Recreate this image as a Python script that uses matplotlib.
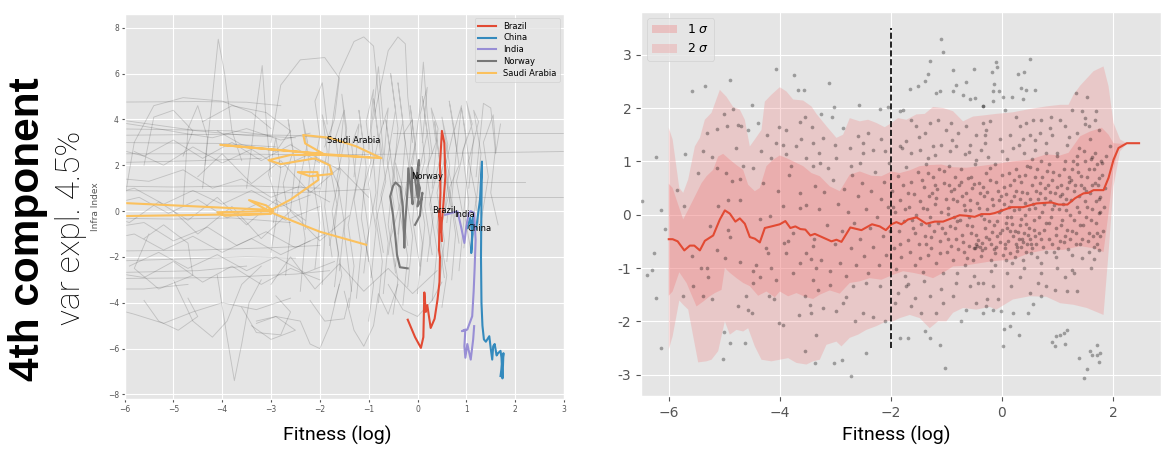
import numpy as np
import matplotlib
matplotlib.use('Agg')
import matplotlib.pyplot as plt

plt.style.use('ggplot')

# ---------------- left panel: trajectories ----------------
brazil_x = [-0.20, -0.05, 0.07, 0.12, 0.14, 0.17, 0.20, 0.27, 0.35, 0.41, 0.45, 0.46, 0.44, 0.45,
            0.47, 0.46, 0.50, 0.55, 0.57, 0.53, 0.48, 0.44, 0.48, 0.50]
brazil_y = [-4.74, -5.5, -5.97, -5.5, -3.55, -4.4, -4.1, -5.1, -4.7, -3.86, -3.1, -2.0, -1.7, -0.5,
            0.8, 2.0, 3.5, 2.97, 1.5, 0.3, -0.9, 0.0, -0.5, -1.3]

china_x = [1.02, 1.08, 1.12, 1.10, 1.15, 1.12, 1.20, 1.28, 1.32, 1.31, 1.30, 1.31, 1.33, 1.36, 1.40,
           1.47, 1.50, 1.53, 1.55, 1.58, 1.62, 1.65, 1.70, 1.72, 1.74, 1.76, 1.70]
china_y = [-0.74, -0.3, -1.0, -1.83, -0.2, -0.5, -0.8, 0.5, 2.16, 0.5, -2.0, -4.0, -5.0, -5.6, -5.7,
           -5.46, -6.0, -6.48, -5.9, -5.8, -6.3, -6.2, -6.1, -6.4, -7.3, -6.2, -7.2]

india_x = [0.57, 0.75, 0.82, 0.89, 0.96, 1.0, 1.05, 1.09, 1.16, 1.19, 1.17, 1.15, 1.12, 1.02, 0.91,
           0.98, 0.96, 0.98, 1.02, 1.09, 1.14, 1.16]
india_y = [-0.16, -0.05, -0.02, -0.66, -1.39, -0.66, -0.1, 0.0, -0.08, -1.25, -2.5, -3.5, -4.59,
           -5.17, -5.24, -5.17, -5.9, -6.4, -5.8, -6.48, -5.6, -5.02]

norway_x = [-0.20, -0.36, -0.42, -0.45, -0.50, -0.56, -0.50, -0.45, -0.35, -0.30, -0.28, -0.27, -0.25,
            -0.20, -0.19, -0.15, -0.10, -0.12, -0.05, 0.0, 0.03, -0.02, 0.05, 0.0, 0.08, 0.10, 0.05, -0.05]
norway_y = [-2.5, -2.45, -1.9, -1.2, -0.2, 0.64, 1.1, 1.25, 1.05, 0.2, -0.9, -1.6, -0.5, 1.0, 1.87,
            1.2, 0.3, 1.9, 1.4, 0.6, 2.23, 1.5, 1.0, 0.2, 0.5, 0.8, -0.2, -0.6]

saudi_x = [-1.05, -2.0, -2.95, -3.45, -3.1, -2.95, -4.1, -3.95, -3.0, -7.0, -7.0, -3.0, -2.6, -2.03,
           -2.05, -2.45, -2.2, -1.75, -1.8, -2.1, -2.8, -3.05, -2.6, -1.9, -0.74, -1.25, -1.8, -2.34,
           -2.3, -1.93, -4.04, -2.0, -1.0]
saudi_y = [-1.47, -0.9, -0.1, 0.48, 0.25, 0.0, -0.05, -0.2, -0.12, -0.25, 0.45, 0.05, 0.5, 1.36,
           1.7, 1.7, 1.52, 1.62, 2.0, 2.3, 2.05, 2.22, 2.45, 2.45, 2.31, 2.82, 3.2, 3.32, 2.95, 2.5,
           2.89, 2.5, 2.35]

countries = ['Brazil', 'China', 'India', 'Norway', 'Saudi Arabia']
country_colors = ['#E24A33', '#348ABD', '#988ED5', '#777777', '#FBC15E']
label_x = [0.30, 1.02, 0.76, -0.13, -1.86]
label_y = [0.03, -0.74, -0.16, 1.51, 3.06]

# other countries (faint grey background)
others = [
    [(-6.5, 4.75), (-4.5, 4.78), (-3.5, 4.75), (-2.8, 4.6)],
    [(-6.5, 4.1), (-5.5, 3.8), (-4.5, 3.5), (-3.5, 3.3), (-2.5, 3.2)],
    [(-6.5, 3.3), (-4.0, 3.35), (-2.5, 3.3), (-1.5, 3.1)],
    [(-6.5, 2.5), (-4.0, 2.5), (-2.0, 2.45), (0.0, 2.5), (1.5, 2.55), (3.0, 2.6)],
    [(-6.5, 3.0), (-4.0, 2.95), (-2.9, 2.8)],
    [(-6.5, 2.1), (-4.5, 2.2), (-3.2, 2.3)],
    [(-6.5, 0.9), (-4.0, 0.85), (-2.5, 0.8), (-1.0, 0.95)],
    [(-6.5, -1.75), (-4.5, -1.7), (-3.0, -1.6), (-2.0, -1.5)],
    [(-6.5, -2.95), (-4.0, -2.9), (-2.5, -2.75), (-1.8, -2.6)],
    [(-6.5, -2.7), (-4.5, -2.6), (-3.5, -2.4)],
    [(-6.5, -3.4), (-5.6, -3.4), (-4.7, -3.2)],
    [(-0.5, 3.42), (1.2, 3.42), (3.0, 3.42)],
    [(-0.5, 1.25), (1.0, 1.25), (2.2, 1.25)],
    [(-0.2, 0.6), (1.5, 0.6), (3.0, 0.6)],
    [(-1.95, -3.2), (-1.9, -1.0), (-2.0, 0.8), (-1.85, 2.6), (-1.95, 4.2), (-1.8, 3.0), (-1.9, 0.2), (-1.75, -2.0)],
    [(-1.6, -2.6), (-1.5, -0.5), (-1.65, 1.4), (-1.45, 3.6), (-1.55, 5.1), (-1.4, 2.2), (-1.5, -0.9), (-1.35, -3.5)],
    [(-1.25, -3.8), (-1.15, -1.6), (-1.3, 0.5), (-1.1, 2.8), (-1.2, 4.4), (-1.05, 1.9), (-1.15, -0.3), (-1.0, -2.2)],
    [(-0.95, -2.9), (-0.85, -0.8), (-1.0, 1.2), (-0.8, 3.1), (-0.9, 4.9), (-0.75, 2.4), (-0.85, 0.1), (-0.7, -1.8)],
    [(-0.7, -3.6), (-0.6, -1.4), (-0.75, 0.7), (-0.55, 2.5), (-0.65, 4.0), (-0.5, 1.6), (-0.6, -0.6), (-0.45, -2.7)],
    [(-0.45, -2.4), (-0.35, -0.2), (-0.5, 1.9), (-0.3, 3.9), (-0.4, 5.6), (-0.25, 3.0), (-0.35, 0.6), (-0.2, -1.5)],
    [(-0.2, -3.3), (-0.1, -1.1), (-0.25, 0.9), (-0.05, 2.9), (-0.15, 4.6), (0.0, 2.0), (-0.1, -0.4), (0.05, -2.4)],
    [(0.05, -2.8), (0.15, -0.6), (0.0, 1.4), (0.2, 3.4), (0.1, 5.0), (0.25, 2.6), (0.15, 0.2), (0.3, -1.9)],
    [(0.3, -3.9), (0.4, -1.7), (0.25, 0.3), (0.45, 2.2), (0.35, 3.9), (0.5, 1.5), (0.4, -0.7), (0.55, -2.9)],
    [(0.6, -2.2), (0.7, 0.0), (0.55, 1.8), (0.75, 3.6), (0.65, 4.8), (0.8, 2.7), (0.7, 0.5), (0.85, -1.4)],
    [(0.85, -2.6), (0.95, -0.4), (0.8, 1.3), (1.0, 3.2), (0.9, 4.5), (1.05, 2.3), (0.95, 0.0), (1.1, -1.8)],
    [(1.1, -1.5), (1.2, 0.6), (1.05, 2.2), (1.25, 3.9), (1.15, 4.4), (1.3, 2.5), (1.2, 0.3), (1.3, -1.2)],
    [(-1.8, -1.5), (-1.65, 0.3), (-1.8, 2.0), (-1.6, 1.0), (-1.7, -0.8), (-1.55, -2.8), (-1.7, -4.0)],
    [(-0.5, -4.5), (-0.4, -3.0), (-0.55, -1.2), (-0.35, 0.4), (-0.45, 2.1), (-0.3, 1.0), (-0.4, -1.0)],
    [(0.5, -4.2), (0.6, -2.8), (0.45, -1.0), (0.65, 0.8), (0.55, 2.5), (0.7, 1.2), (0.6, -0.5)],
    [(-2.4, -3.5), (-2.3, -1.2), (-2.45, 0.9), (-2.25, 3.0), (-2.35, 4.0), (-2.2, 1.8), (-2.3, -0.8)],
    [(1.3, -0.5), (1.45, 1.5), (1.35, 3.0), (1.55, 4.2), (1.6, 2.8), (1.5, 0.8), (1.65, -0.6)],
    [(-1.0, -4.8), (-0.9, -3.2), (-1.05, -1.5), (-0.85, 0.8), (-0.95, 3.5), (-0.8, 6.3), (-0.7, 3.8)],
    [(-6.5, 1.5), (-5.5, 1.3), (-4.8, 1.8), (-4.2, 1.0), (-3.6, 1.4), (-3.0, 0.6), (-2.4, 1.1), (-1.8, 0.4)],
    [(-6.5, -0.8), (-5.6, -0.5), (-5.0, -1.3), (-4.3, -0.7), (-3.7, -1.5), (-3.1, -0.9), (-2.5, -1.6), (-1.9, -1.0)],
    [(-6.5, 0.2), (-5.7, 0.6), (-5.1, -0.1), (-4.5, 0.5), (-3.9, -0.3), (-3.3, 0.3), (-2.7, -0.4), (-2.0, 0.2)],
    [(-5.9, -2.4), (-5.3, -1.8), (-4.7, -2.5), (-4.1, -1.9), (-3.5, -2.6), (-2.9, -2.0), (-2.3, -2.7), (-1.7, -2.2)],
    [(-5.8, 2.6), (-5.2, 2.0), (-4.6, 2.8), (-4.0, 2.1), (-3.4, 2.7), (-2.8, 1.9), (-2.2, 2.5), (-1.6, 1.8)],
    [(-5.5, -1.0), (-5.8, -2.5), (-5.3, -3.4), (-4.6, -2.8), (-4.7, -1.4), (-5.2, -0.6), (-5.6, -1.2)],
    [(-4.4, 3.9), (-3.8, 4.6), (-3.1, 4.3), (-2.6, 3.5), (-2.9, 2.6), (-3.6, 2.9), (-4.1, 3.5)],
    [(-6.2, -2.0), (-6.0, 0.5), (-5.8, 3.0), (-5.4, 4.6), (-4.8, 4.95), (-4.0, 4.8), (-3.4, 4.3), (-3.0, 3.6)],
    [(-6.5, -4.1), (-5.8, -4.5), (-5.2, -4.9), (-4.6, -4.4), (-4.0, -4.0), (-3.3, -4.3), (-2.6, -3.8)],
    [(-5.0, -3.0), (-4.6, -4.8), (-4.2, -5.5), (-3.9, -4.8), (-3.6, -3.2), (-3.2, -2.4)],
    [(-4.1, -2.8), (-3.9, -5.5), (-3.75, -7.4), (-3.6, -5.8), (-3.45, -4.0), (-3.2, -3.0)],
    [(-3.3, -4.8), (-2.9, -4.6), (-2.4, -4.8), (-2.2, -5.8), (-2.0, -6.0), (-1.8, -5.0), (-1.6, -3.2)],
    [(-1.5, -3.5), (-1.3, -5.2), (-1.1, -5.9), (-0.9, -5.0), (-0.8, -3.6), (-0.6, -4.5), (-0.4, -3.2)],
    [(-4.35, 2.0), (-4.2, 5.0), (-4.08, 7.5), (-3.95, 6.0), (-3.8, 3.5), (-3.6, 2.2)],
    [(-3.5, 1.0), (-3.3, 4.5), (-3.18, 6.35), (-3.1, 4.0), (-3.0, 1.5)],
    [(-3.0, 3.0), (-2.8, 5.5), (-2.4, 6.6), (-1.9, 6.7), (-1.6, 5.8), (-1.7, 4.0), (-1.9, 2.8)],
    [(-1.8, 3.0), (-1.6, 6.0), (-1.3, 7.4), (-1.1, 7.6), (-0.9, 7.2), (-0.8, 5.0), (-0.7, 2.5)],
    [(-0.9, 4.0), (-0.6, 7.0), (-0.4, 7.6), (-0.25, 7.3), (-0.2, 5.0), (-0.1, 3.0)],
    [(-0.1, 2.0), (0.05, 4.5), (0.12, 6.5), (0.2, 4.2), (0.3, 2.5)],
    [(1.2, 1.5), (1.35, 4.7), (1.5, 4.5), (1.6, 2.5), (1.7, 3.8)],
    [(-5.0, 0.0), (-4.5, -1.0), (-3.8, 0.2), (-3.2, -1.2), (-2.6, 0.0), (-2.0, -1.3), (-1.4, -0.2)],
    [(-4.5, 1.5), (-4.0, 2.5), (-3.4, 1.2), (-2.8, 2.2), (-2.2, 0.8), (-1.6, 1.9), (-1.0, 0.6)],
    [(-3.0, -3.2), (-2.6, -2.0), (-2.1, -3.4), (-1.6, -2.3), (-1.1, -3.5), (-0.6, -2.5), (-0.1, -3.6), (0.4, -2.6)],
    [(-3.4, -5.0), (-3.0, -5.6), (-2.5, -5.2), (-2.9, -4.6), (-3.3, -4.9)],
    [(-6.5, 4.0), (-5.6, 3.7), (-4.8, 3.4), (-4.2, 3.2), (-3.5, 3.6), (-2.8, 3.1), (-2.2, 3.4)],
    [(-6.5, -0.3), (-5.0, -0.35), (-3.8, -0.3), (-2.6, -0.5)],
    [(-6.5, 1.1), (-5.0, 1.05), (-3.5, 1.1), (-2.0, 1.0)],
    [(-6.5, -2.2), (-5.0, -2.1), (-3.5, -2.0), (-2.5, -2.05)],
    [(-6.5, 3.6), (-5.0, 3.55), (-3.8, 3.5), (-3.0, 3.3)],
    [(-2.1, -2.5), (-2.0, -0.5), (-2.15, 1.5), (-2.0, 3.3), (-2.1, 4.8), (-1.95, 5.6), (-1.85, 3.8)],
    [(-1.7, -3.3), (-1.62, -1.8), (-1.75, 0.0), (-1.58, 1.7), (-1.68, 3.2), (-1.5, 4.4), (-1.6, 2.4)],
    [(-1.4, -4.2), (-1.3, -2.4), (-1.42, -0.6), (-1.25, 1.2), (-1.35, 2.9), (-1.2, 3.8), (-1.3, 1.5)],
    [(-1.1, -2.7), (-1.0, -0.9), (-1.12, 0.9), (-0.95, 2.2), (-1.05, 3.9), (-0.9, 5.3), (-1.0, 2.7)],
    [(-0.8, -4.0), (-0.72, -2.2), (-0.85, -0.4), (-0.65, 1.3), (-0.78, 3.3), (-0.6, 4.5), (-0.7, 2.0)],
    [(-0.6, -1.9), (-0.48, 0.2), (-0.62, 2.2), (-0.45, 4.4), (-0.55, 6.0), (-0.4, 3.6), (-0.5, 1.2)],
    [(-0.3, -4.1), (-0.2, -2.0), (-0.35, -0.2), (-0.15, 1.6), (-0.28, 3.4), (-0.1, 4.0), (-0.2, 1.2)],
    [(0.0, -3.6), (0.1, -1.4), (-0.05, 0.6), (0.15, 2.2), (0.05, 4.2), (0.2, 5.4), (0.1, 3.0)],
    [(0.2, -2.2), (0.32, -0.3), (0.18, 1.8), (0.38, 3.0), (0.28, 4.5), (0.42, 3.6), (0.3, 1.0)],
    [(0.45, -3.2), (0.55, -1.3), (0.4, 0.8), (0.62, 2.9), (0.5, 4.1), (0.66, 2.0), (0.55, -0.2)],
    [(0.7, -3.0), (0.78, -1.0), (0.65, 1.0), (0.85, 2.0), (0.75, 3.5), (0.9, 4.6), (0.8, 2.6)],
    [(0.95, -1.6), (1.05, 0.4), (0.92, 2.6), (1.12, 3.8), (1.0, 4.8), (1.15, 3.2), (1.05, 1.0)],
    [(-2.7, -2.8), (-2.6, -0.8), (-2.75, 1.2), (-2.55, 2.6), (-2.65, 4.0), (-2.5, 2.0), (-2.6, 0.0)],
    [(-3.0, -1.8), (-2.85, 0.2), (-3.05, 1.6), (-2.9, 3.2), (-2.8, 1.8), (-2.95, -0.5)],
    [(-6.5, -1.3), (-5.8, -1.0), (-5.2, -1.7), (-4.6, -1.1), (-4.0, -1.8), (-3.4, -1.2), (-2.8, -1.9), (-2.2, -1.3)],
    [(-6.5, 0.6), (-5.8, 1.0), (-5.2, 0.3), (-4.6, 0.9), (-4.0, 0.3), (-3.4, 0.9), (-2.8, 0.2), (-2.2, 0.7)],
    [(-6.5, -0.1), (-5.9, -0.5), (-5.3, 0.4), (-4.7, -0.4), (-4.1, 0.6), (-3.5, -0.6), (-2.9, 0.5), (-2.3, -0.4)],
    [(-6.5, 2.9), (-5.6, 2.4), (-5.0, 3.1), (-4.4, 2.3), (-3.8, 3.0), (-3.2, 2.2), (-2.6, 2.9), (-2.0, 2.1)],
    [(-6.5, -2.6), (-5.6, -2.9), (-5.0, -2.2), (-4.4, -3.1), (-3.8, -2.4), (-3.2, -3.2), (-2.6, -2.5), (-2.0, -3.0)],
    [(-5.6, -3.9), (-5.3, -4.8), (-4.9, -5.2), (-4.5, -4.6), (-4.7, -3.8)],
    [(-3.6, -4.2), (-3.3, -5.3), (-2.8, -5.4), (-2.6, -4.4), (-2.9, -3.7)],
    [(-2.2, -3.9), (-1.9, -4.8), (-1.5, -4.7), (-1.4, -3.8)],
    [(-0.6, -3.2), (-0.3, -4.3), (0.0, -4.6), (0.3, -3.9), (0.5, -3.1)],
    [(-5.6, 2.0), (-5.4, 4.1), (-5.0, 4.4), (-4.6, 3.5), (-4.8, 2.4)],
    [(-4.8, 0.2), (-4.7, 3.6), (-4.5, 4.6), (-4.3, 3.2), (-4.4, 1.0)],
]

# ---------------- right panel: rolling median and bands ----------------
med_x = [-6.0, -5.93, -5.84, -5.72, -5.62, -5.54, -5.44, -5.35, -5.20, -5.08, -4.99, -4.90, -4.80,
         -4.72, -4.63, -4.54, -4.45, -4.36, -4.27, -4.15, -4.0, -3.90, -3.81, -3.72, -3.63, -3.54,
         -3.45, -3.37, -3.22, -3.07, -2.98, -2.89, -2.73, -2.53, -2.34, -2.20, -2.09, -1.99, -1.90,
         -1.81, -1.69, -1.54, -1.36, -1.21, -1.06, -0.91, -0.76, -0.64, -0.49, -0.37, -0.22, -0.13,
         0.17, 0.38, 0.62, 0.89, 1.02, 1.18, 1.32, 1.47, 1.56, 1.65, 1.83, 1.92, 2.01, 2.10, 2.25, 2.47]
med_y = [-0.46, -0.46, -0.50, -0.67, -0.58, -0.58, -0.67, -0.49, -0.39, -0.09, 0.08, 0.02, -0.13,
         -0.07, -0.17, -0.42, -0.45, -0.52, -0.25, -0.22, -0.18, -0.12, -0.25, -0.22, -0.27, -0.28,
         -0.39, -0.36, -0.43, -0.50, -0.47, -0.51, -0.24, -0.29, -0.18, -0.22, -0.29, -0.18, -0.14,
         -0.18, -0.09, -0.05, -0.17, -0.13, -0.13, -0.07, -0.01, -0.02, -0.04, 0.01, 0.01, 0.03,
         0.14, 0.14, 0.21, 0.23, 0.19, 0.19, 0.31, 0.40, 0.41, 0.46, 0.46, 0.69, 1.03, 1.25, 1.34, 1.34]

s1u_x = [-6.0, -5.93, -5.86, -5.74, -5.65, -5.53, -5.41, -5.32, -5.20, -5.11, -5.02, -4.90, -4.78,
         -4.66, -4.57, -4.45, -4.36, -4.24, -4.12, -4.0, -3.88, -3.76, -3.58, -3.43, -3.28, -3.10,
         -2.92, -2.74, -2.56, -2.35, -2.17, -1.99, -1.84, -1.66, -1.48, -1.30, -1.09, -0.88, -0.64,
         -0.40, -0.04, 0.20, 0.50, 0.80, 1.05, 1.20, 1.41, 1.59, 1.80, 1.92, 2.01, 2.13, 2.2]
s1u_y = [0.58, 0.50, 0.28, -0.09, 0.09, 0.34, 0.59, 0.72, 0.84, 1.09, 1.14, 1.03, 0.93, 0.84, 0.56,
         0.44, 0.50, 0.91, 1.03, 1.11, 1.06, 1.00, 0.91, 0.78, 0.72, 0.53, 0.44, 0.75, 0.81, 0.73,
         0.72, 0.81, 0.78, 0.83, 0.91, 0.93, 0.94, 0.89, 0.88, 0.91, 0.96, 1.0, 1.03, 1.13, 1.11,
         1.16, 1.47, 1.56, 1.63, 1.50, 1.34, 1.33, 1.33]
s1l_x = [-6.0, -5.93, -5.81, -5.68, -5.50, -5.38, -5.26, -5.17, -5.05, -4.99, -4.90, -4.78, -4.66,
         -4.54, -4.39, -4.24, -4.09, -4.0, -3.85, -3.70, -3.52, -3.40, -3.28, -3.10, -2.92, -2.74,
         -2.56, -2.38, -2.17, -1.99, -1.78, -1.60, -1.42, -1.24, -1.06, -0.88, -0.70, -0.46, -0.22,
         -0.04, 0.20, 0.50, 0.80, 1.11, 1.41, 1.65, 1.83, 1.92, 2.01, 2.10, 2.2]
s1l_y = [-1.52, -1.44, -1.08, -1.28, -1.72, -1.63, -1.53, -1.47, -1.41, -1.0, -1.09, -1.19, -1.28,
         -1.34, -1.52, -1.44, -1.55, -1.44, -1.53, -1.47, -1.55, -1.58, -1.50, -1.42, -1.48, -1.28,
         -1.25, -1.19, -1.22, -1.14, -1.06, -1.09, -1.13, -1.19, -1.09, -0.97, -0.96, -0.92, -0.88,
         -0.86, -0.84, -0.72, -0.66, -0.66, -0.59, -0.63, -0.70, 0.03, 0.84, 1.25, 1.33]

s2u_x = [-6.0, -5.93, -5.81, -5.74, -5.65, -5.53, -5.44, -5.35, -5.23, -5.08, -4.96, -4.84, -4.72,
         -4.63, -4.54, -4.45, -4.33, -4.27, -4.15, -4.0, -3.88, -3.76, -3.58, -3.43, -3.34, -3.16,
         -2.98, -2.86, -2.74, -2.56, -2.41, -2.26, -2.11, -1.99, -1.87, -1.72, -1.54, -1.39, -1.24,
         -1.06, -0.88, -0.70, -0.52, -0.34, -0.10, 0.20, 0.50, 0.80, 1.05, 1.20, 1.29, 1.41, 1.65,
         1.83, 1.92, 2.01, 2.13, 2.25]
s2u_y = [1.63, 1.41, 0.50, 0.41, 0.66, 1.28, 1.44, 1.78, 1.91, 2.34, 2.21, 2.02, 1.97, 1.78, 1.28,
         1.41, 1.59, 2.12, 2.25, 2.39, 2.31, 2.16, 2.14, 2.03, 1.89, 1.66, 1.44, 1.50, 1.81, 1.75,
         1.78, 1.72, 1.64, 1.72, 1.81, 1.78, 1.88, 1.89, 2.02, 2.0, 1.94, 1.75, 1.84, 1.86, 1.89,
         1.92, 1.98, 2.03, 2.06, 2.06, 2.25, 2.42, 2.69, 2.78, 2.41, 1.72, 1.41, 1.34]
s2l_x = [-6.0, -5.93, -5.81, -5.74, -5.65, -5.56, -5.47, -5.32, -5.23, -5.11, -4.99, -4.90, -4.78,
         -4.66, -4.57, -4.45, -4.33, -4.15, -4.0, -3.85, -3.70, -3.52, -3.40, -3.28, -3.16, -2.98,
         -2.89, -2.74, -2.59, -2.44, -2.26, -2.08, -1.96, -1.84, -1.66, -1.48, -1.30, -1.15, -1.0,
         -0.88, -0.70, -0.46, -0.22, -0.10, 0.20, 0.50, 0.80, 1.05, 1.29, 1.53, 1.83, 1.92, 2.01,
         2.13, 2.25]
s2l_y = [-2.53, -2.28, -1.61, -1.69, -1.78, -2.28, -2.77, -2.75, -2.72, -2.56, -2.0, -2.25, -2.16,
         -2.19, -2.13, -2.47, -2.72, -2.75, -2.72, -2.69, -2.78, -2.81, -2.75, -2.72, -2.44, -2.38,
         -2.47, -2.31, -2.25, -2.16, -2.09, -2.0, -2.0, -1.94, -1.88, -1.94, -2.13, -2.0, -2.0,
         -1.84, -1.75, -1.78, -1.73, -1.78, -1.59, -1.53, -1.54, -1.66, -1.69, -1.75, -1.88, -0.72,
         0.53, 1.19, 1.33]

threshold_x = -2.0
threshold_span = (-2.5, 3.5)

# observations (one dot per country-year)
obs = [
    # far left, x < -3.3
    (-4.06, 2.73), (-4.90, 2.53), (-5.58, 2.31), (-5.35, 2.41), (-3.74, 2.61), (-3.67, 2.34), (-3.56, 2.34),
    (-4.50, 2.06), (-5.01, 1.88), (-4.84, 1.98), (-4.75, 1.69), (-5.13, 1.61), (-5.32, 1.53), (-4.95, 1.66),
    (-4.70, 1.66), (-4.39, 1.71), (-4.01, 1.64), (-3.89, 1.59), (-3.64, 1.73), (-3.54, 1.84), (-3.42, 1.64),
    (-3.61, 1.41), (-4.23, 1.50), (-4.06, 1.34), (-3.94, 1.31), (-3.71, 1.29), (-5.38, 1.19), (-5.23, 1.09),
    (-5.71, 1.13), (-6.23, 1.09), (-4.57, 1.59), (-4.79, 1.25), (-4.33, 1.19), (-4.15, 1.06), (-3.88, 1.13),
    (-3.52, 1.06), (-3.40, 0.91), (-5.14, 0.88), (-4.66, 0.91), (-4.97, 0.78), (-4.87, 0.63), (-5.47, 0.78),
    (-5.86, 0.47), (-5.72, 0.16), (-6.14, 0.09), (-6.49, 0.25), (-6.07, -0.27), (-6.26, -0.71), (-6.39, -1.13),
    (-6.30, -1.03), (-6.23, -1.56), (-6.14, -2.5), (-5.59, -0.78), (-5.32, -1.0), (-5.56, -1.34), (-5.74, -1.52),
    (-5.42, -1.0), (-5.30, -1.17), (-5.39, -1.53), (-5.23, -1.59), (-4.99, -0.81), (-4.94, -0.28), (-4.90, -0.41),
    (-4.72, -0.88), (-4.61, -1.53), (-4.57, -1.78), (-4.75, -1.72), (-5.02, -2.71), (-4.90, -2.41), (-4.62, -2.41),
    (-4.49, -1.06), (-4.42, -0.94), (-4.36, -1.16), (-4.21, -0.72), (-4.19, -1.53), (-4.11, -1.59), (-4.06, -1.22),
    (-4.01, -2.03), (-3.94, -2.06), (-3.88, -0.72), (-3.85, -0.5), (-3.76, -0.34), (-3.76, -1.09), (-3.65, -1.88),
    (-3.54, -2.56), (-3.55, -1.53), (-3.46, -1.69), (-3.40, -1.22), (-3.36, -2.78), (-3.40, -0.59), (-3.52, -0.72),
    (-3.43, -0.84), (-3.34, -1.0), (-3.64, -0.91), (-3.93, -0.53), (-4.15, -1.0), (-4.25, -0.63), (-4.48, -1.28),
    (-5.14, -0.66), (-5.26, -0.22), (-5.11, 0.16), (-4.72, 0.28), (-4.93, 0.27), (-4.36, -0.09), (-4.18, -0.03),
    (-4.03, 0.44), (-3.83, 0.75), (-3.64, 0.13), (-3.52, 0.19), (-3.37, 0.53), (-3.64, 0.41), (-3.94, 0.16),
    (-4.72, 0.66), (-4.48, 0.88), (-3.80, 0.91), (-4.31, 0.59),
    # -3.4 < x < -2
    (-3.38, -0.45), (-3.30, 0.10), (-3.25, -0.85), (-3.20, 0.42), (-3.15, -0.20), (-3.10, -1.05), (-3.05, 0.65),
    (-3.00, -0.55), (-2.95, 0.20), (-2.92, -0.90), (-2.88, -0.30), (-2.85, 0.48), (-2.80, -1.15), (-2.77, 0.05),
    (-2.72, -0.62), (-2.70, 0.75), (-2.66, -0.15), (-2.62, -0.95), (-2.60, 0.35), (-2.55, -0.45), (-2.52, 0.60),
    (-2.48, -0.78), (-2.45, 0.10), (-2.42, -1.10), (-2.38, -0.25), (-2.35, 0.45), (-2.32, -0.60), (-2.28, 0.80),
    (-2.25, -0.05), (-2.22, -0.95), (-2.18, 0.30), (-2.15, -0.40), (-2.12, 0.62), (-2.08, -0.75), (-2.05, 0.15),
    (-2.02, -0.30),
    # upper, -3.4 < x < -0.2
    (-1.10, 3.30), (-1.06, 3.05), (-1.30, 2.89), (-0.50, 2.73), (-0.89, 2.71), (-1.34, 2.63), (-3.12, 2.47),
    (-1.66, 2.36), (-1.51, 2.41), (-1.39, 2.50), (-1.19, 2.28), (-1.12, 2.31), (-0.82, 2.44), (-0.70, 2.25),
    (-0.58, 2.16), (-0.49, 2.19), (-0.34, 2.04), (-0.88, 2.31), (-0.64, 2.48), (-2.57, 2.06), (-3.02, 2.02),
    (-3.06, 1.83), (-3.26, 1.89), (-2.20, 1.98), (-2.06, 2.02), (-1.84, 1.94), (-1.78, 1.97), (-1.63, 1.78),
    (-1.54, 1.66), (-1.39, 1.53), (-1.30, 1.72), (-1.15, 1.78), (-1.00, 1.59), (-0.91, 1.72), (-0.79, 1.53),
    (-0.64, 1.66), (-0.46, 1.50), (-0.34, 1.72), (-0.28, 1.59), (-2.86, 1.63), (-2.41, 1.53), (-2.17, 1.41),
    (-2.59, 1.47), (-3.22, 1.44), (-3.40, 1.34), (-3.01, 1.31), (-2.74, 1.25), (-2.50, 1.16), (-2.32, 1.22),
    (-2.11, 1.19), (-2.03, 0.97), (-2.56, 0.96), (-2.71, 0.91), (-2.98, 1.06), (-3.13, 0.88), (-3.28, 0.97),
    (-1.84, 1.28), (-1.72, 1.38), (-1.63, 1.16), (-1.48, 1.22), (-1.33, 1.06), (-1.24, 1.28), (-1.09, 1.31),
    (-0.94, 1.19), (-0.82, 1.28), (-0.67, 1.13), (-0.58, 1.31), (-0.46, 1.03), (-0.37, 1.22), (-0.25, 1.09),
    # lower, -3.4 < x < -0.2
    (-3.34, -2.25), (-3.03, -2.78), (-2.88, -2.72), (-2.72, -3.02), (-2.44, -2.59), (-2.65, -2.0), (-2.50, -1.84),
    (-2.98, -1.81), (-3.22, -1.75), (-3.43, -1.84), (-2.86, -1.66), (-2.32, -1.91), (-2.11, -2.0), (-1.84, -2.31),
    (-1.69, -2.31), (-1.39, -2.19), (-1.30, -2.31), (-1.12, -2.44), (-1.02, -2.88), (-1.18, -1.84), (-1.45, -1.84),
    (-1.63, -1.72), (-1.93, -1.66), (-1.87, -1.47), (-1.72, -1.34), (-1.57, -1.56), (-1.30, -1.53), (-1.06, -1.66),
    (-0.88, -1.53), (-0.73, -2.0), (-0.64, -1.78), (-0.46, -1.66), (-0.34, -1.84), (-0.28, -1.72), (-0.58, -1.34),
    (-0.82, -1.28), (-0.43, -1.28), (-2.20, -1.34), (-2.44, -1.28), (-2.68, -1.34), (-3.10, -1.31), (-3.31, -1.41),
    # -2 < x < -0.3, middle
    (-1.98, 0.45), (-1.95, -0.62), (-1.93, 0.05), (-1.90, -1.02), (-1.88, 0.72), (-1.86, -0.30), (-1.83, 0.28),
    (-1.81, -0.80), (-1.78, 0.55), (-1.76, -0.12), (-1.74, -1.15), (-1.72, 0.90), (-1.70, -0.48), (-1.67, 0.15),
    (-1.65, -0.70), (-1.63, 0.62), (-1.60, -0.25), (-1.58, 0.38), (-1.56, -0.95), (-1.54, 0.00), (-1.52, 0.80),
    (-1.50, -0.55), (-1.47, 0.25), (-1.45, -0.18), (-1.43, -1.08), (-1.41, 0.52), (-1.39, -0.40), (-1.37, 0.95),
    (-1.35, 0.10), (-1.33, -0.75), (-1.31, 0.35), (-1.29, -0.05), (-1.27, -0.62), (-1.25, 0.70), (-1.23, -0.30),
    (-1.21, 0.20), (-1.19, -0.90), (-1.17, 0.48), (-1.15, -0.15), (-1.13, 0.85), (-1.11, -0.50), (-1.09, 0.05),
    (-1.07, -1.10), (-1.05, 0.60), (-1.03, -0.35), (-1.01, 0.30), (-0.99, -0.70), (-0.97, 0.12), (-0.95, 0.92),
    (-0.93, -0.22), (-0.91, 0.45), (-0.89, -0.85), (-0.87, -0.05), (-0.85, 0.70), (-0.83, -0.45), (-0.81, 0.25),
    (-0.79, -0.65), (-0.77, 0.55), (-0.75, -0.10), (-0.73, 0.85), (-0.71, -0.38), (-0.69, 0.18), (-0.67, -0.95),
    (-0.65, 0.40), (-0.63, -0.20), (-0.61, 0.68), (-0.59, -0.58), (-0.57, 0.08), (-0.55, -0.35), (-0.53, 0.50),
    (-0.51, -0.62), (-0.49, 0.95), (-0.47, -0.55), (-0.45, 0.22), (-0.43, -0.48), (-0.41, 0.60), (-0.39, -0.60),
    (-0.37, 0.00), (-0.35, -0.66), (-0.33, 0.35), (-0.31, -0.25), (-0.29, 0.78), (-0.48, -0.62), (-0.44, -0.58),
    (-0.36, -0.53), (-0.30, -0.62), (-1.96, 0.15), (-1.84, -0.55), (-1.69, 0.40), (-1.57, -0.35), (-1.44, 0.65),
    (-1.32, -0.20), (-1.20, 0.55), (-1.08, -0.25), (-0.96, 0.55), (-0.84, -0.25), (-0.72, 0.35), (-0.60, -0.05),
    (-0.52, -0.85), (-0.40, 0.40), (-1.62, -0.10), (-1.26, 0.40), (-0.88, 0.30), (-0.68, -0.70), (-1.74, 0.10),
    (-1.36, -0.55), (-0.98, -0.45), (-0.56, 0.70),
    # x > -0.3, middle
    (-0.27, 0.10), (-0.24, -0.45), (-0.22, 0.65), (-0.19, -0.85), (-0.17, 0.30), (-0.14, -0.20), (-0.12, 0.95),
    (-0.10, -0.60), (-0.07, 0.45), (-0.05, 0.05), (-0.03, -0.35), (0.00, 0.75), (0.02, -0.75), (0.04, 0.20),
    (0.07, -0.15), (0.09, 1.05), (0.11, -0.50), (0.14, 0.55), (0.16, -0.05), (0.18, -0.90), (0.21, 0.35),
    (0.23, -0.30), (0.25, 0.85), (0.28, -0.60), (0.30, 0.10), (0.32, -0.20), (0.35, 0.62), (0.37, -0.45),
    (0.39, 1.15), (0.42, 0.00), (0.44, -0.70), (0.46, 0.40), (0.49, -0.25), (0.51, 0.90), (0.53, -0.55),
    (0.56, 0.20), (0.58, -0.10), (0.60, 0.70), (0.63, -0.80), (0.65, 0.30), (0.67, -0.35), (0.70, 1.00),
    (0.72, 0.05), (0.74, -0.60), (0.77, 0.50), (0.79, -0.15), (0.81, 0.82), (0.84, -0.45), (0.86, 0.25),
    (0.88, -0.05), (0.91, 0.65), (0.93, -0.70), (0.95, 0.40), (0.98, -0.25), (1.00, 1.10), (1.02, 0.10),
    (1.05, -0.50), (1.07, 0.55), (1.09, -0.10), (1.12, 0.85), (1.14, -0.40), (1.16, 0.30), (1.19, -0.65),
    (1.21, 0.70), (1.23, 0.00), (1.26, -0.30), (1.28, 1.00), (1.30, 0.45), (1.33, -0.55), (1.35, 0.15),
    (1.37, 0.80), (1.40, -0.20), (1.42, 0.55), (1.44, -0.45), (1.47, 1.20), (1.49, 0.25), (1.51, -0.05),
    (1.54, 0.70), (1.56, -0.35), (1.58, 0.40), (1.61, 1.05), (1.63, 0.10), (1.65, -0.60), (1.68, 0.60),
    (1.70, -0.15), (1.72, 0.95), (1.75, 0.30), (1.77, -0.40), (1.80, 0.75), (1.84, 0.15), (1.88, 1.10),
    (0.20, -0.40), (0.25, -0.55), (0.30, -0.45), (0.35, -0.60), (0.40, -0.35), (0.28, -0.68), (0.45, -0.55),
    (0.50, -0.45), (0.15, -0.30), (0.55, -0.62), (-0.20, -0.55), (-0.15, -0.65), (-0.08, -0.40), (0.05, -0.55),
    (0.10, -0.25), (0.60, -0.40), (0.12, 0.15), (0.33, 0.30), (0.48, 0.10), (0.62, 0.45), (0.75, 0.20),
    (0.90, 0.10), (1.04, 0.35), (1.18, 0.50), (-0.02, 0.35), (0.22, 0.65), (0.42, 0.75), (0.68, 0.60),
    (0.85, 0.95), (1.10, 0.20), (1.25, 0.65), (1.38, 0.35), (1.52, 0.45), (1.66, 0.85), (0.08, -0.85),
    (0.38, -0.85), (0.70, -0.90), (0.97, -0.80), (1.27, -0.75), (1.57, -0.70), (-0.12, -0.95), (0.55, 1.05),
    (0.80, 1.15), (1.35, 1.10),
    # x > -0.4, upper and lower
    (0.50, 2.92), (-0.10, 2.86), (-0.08, 2.76), (-0.17, 2.67), (0.29, 2.64), (0.40, 2.68), (-0.14, 2.45),
    (-0.16, 2.31), (-0.05, 2.31), (0.02, 2.21), (-0.16, 2.13), (0.34, 2.38), (0.43, 2.34), (0.59, 2.34),
    (0.38, 2.17), (0.19, 2.21), (1.33, 2.28), (1.54, 2.20), (1.27, 1.97), (1.44, 1.94), (1.50, 1.81),
    (1.68, 1.78), (-0.34, 2.03), (0.05, 1.97), (0.25, 1.84), (0.32, 1.66), (0.44, 1.72), (0.56, 1.78),
    (0.71, 1.78), (0.89, 1.84), (1.05, 1.78), (1.14, 1.67), (0.86, 1.63), (0.68, 1.53), (0.50, 1.50),
    (0.14, 1.50), (-0.22, 1.75), (-0.31, 1.50), (-0.04, 1.41), (0.20, 1.25), (0.38, 1.41), (0.59, 1.22),
    (0.80, 1.34), (0.99, 1.16), (1.17, 1.31), (1.35, 1.53), (1.56, 1.66), (1.74, 1.59), (1.59, 1.41),
    (1.38, 1.25), (1.62, 1.09), (1.80, 0.97), (1.95, 1.29), (1.74, 0.69), (1.77, 0.34), (1.74, 0.03),
    (1.71, -0.34), (1.74, -0.66), (1.65, -0.84), (1.44, -0.81), (1.26, -1.03), (1.14, -1.16), (1.35, -1.44),
    (1.18, -1.44), (0.91, -2.38), (0.98, -2.28), (1.05, -2.25), (1.11, -2.22), (1.18, -2.17), (0.95, -2.47),
    (1.14, -2.42), (1.39, -2.69), (1.59, -2.56), (1.63, -2.63), (1.71, -2.63), (1.77, -2.59), (1.72, -2.44),
    (1.75, -2.77), (1.53, -2.89), (1.47, -3.06), (0.04, -2.14), (0.31, -2.25), (0.02, -2.47), (0.14, -2.09),
    (-0.02, -1.81), (0.20, -1.84), (-0.07, -1.59), (-0.16, -1.78), (0.47, -1.84), (0.56, -1.67), (0.50, -1.46),
    (0.71, -1.53), (0.80, -1.34), (0.95, -1.41), (0.65, -1.28), (0.32, -1.16), (0.17, -1.34), (-0.16, -1.34),
    (-0.34, -1.28), (-0.26, -1.58),
]

# extra observations in the crowded middle of the cloud
obs_dense = [
    (-1.48, -0.82), (-1.42, 0.12), (-1.34, 0.78), (-1.28, -0.42), (-1.18, 0.32), (-1.12, -0.72), (-1.04, 0.82),
    (-0.98, 0.02), (-0.92, -0.58), (-0.86, 0.48), (-0.80, -0.12), (-0.74, 0.62), (-0.70, -0.52), (-0.66, 0.08),
    (-0.62, -0.82), (-0.58, 0.28), (-0.54, -0.22), (-0.50, 0.58), (-0.46, -0.38), (-0.42, 0.12), (-0.38, -0.78),
    (-0.34, 0.52), (-0.32, -0.08), (-0.28, -0.42), (-0.26, 0.42), (-0.23, -0.12), (-0.21, 0.88), (-0.18, -0.32),
    (-0.16, 0.18), (-0.13, -0.72), (-0.11, 0.62), (-0.09, -0.12), (-0.06, 0.28), (-0.04, -0.52), (-0.01, 0.08),
    (0.01, -0.28), (0.03, 0.52), (0.06, -0.62), (0.08, 0.38), (0.10, -0.05), (0.13, 0.78), (0.15, -0.72),
    (0.17, 0.25), (0.19, -0.18), (0.22, 0.08), (0.24, -0.80), (0.26, 0.45), (0.29, -0.32), (0.31, 0.72),
    (0.34, -0.08), (0.36, 0.42), (0.38, -0.52), (0.41, 0.22), (0.43, -0.18), (0.45, 0.92), (0.47, -0.38),
    (0.50, 0.30), (0.52, -0.72), (0.54, 0.55), (0.57, -0.28), (0.59, 0.12), (0.61, -0.55), (0.64, 0.85),
    (0.66, -0.05), (0.69, 0.40), (0.71, -0.45), (0.73, 0.70), (0.76, -0.28), (0.78, 0.32), (0.80, -0.70),
    (0.83, 0.55), (0.85, -0.15), (0.87, 0.42), (0.90, -0.55), (0.92, 0.80), (0.94, 0.18), (0.97, -0.38),
    (0.99, 0.52), (1.01, -0.62), (1.03, 0.75), (1.06, -0.20), (1.08, 0.38), (1.11, -0.52), (1.13, 1.00),
    (1.15, 0.08), (1.17, -0.28), (1.20, 0.62), (1.22, -0.45), (1.24, 0.28), (1.27, 0.85), (1.29, -0.10),
    (1.31, 0.55), (1.34, -0.35), (1.36, 0.95), (1.39, 0.05), (1.41, -0.55), (1.43, 0.72), (1.46, -0.20),
    (1.48, 0.50), (1.50, 1.00), (1.53, 0.15), (1.55, -0.50), (1.57, 0.85), (1.60, -0.10), (1.62, 0.55),
    (1.64, -0.40), (1.67, 1.15), (1.69, 0.25), (1.71, -0.55), (1.73, 0.55), (1.76, 0.05), (1.78, 1.00),
    (1.82, -0.30), (1.86, 0.50),
    (-1.8, 1.25), (-1.5, 1.45), (-1.2, 1.12), (-0.9, 1.40), (-0.6, 1.18), (-0.3, 1.35), (0.0, 1.20),
    (0.3, 1.30), (0.6, 1.40), (0.9, 1.50), (1.2, 1.45), (1.5, 1.70), (1.7, 1.95), (-1.7, -1.30),
    (-1.4, -1.25), (-1.1, -1.40), (-0.8, -1.10), (-0.5, -1.15), (-0.2, -1.05), (0.1, -1.10), (0.4, -1.00),
    (0.7, -1.10), (1.0, -1.00), (1.3, -1.10), (1.6, -1.00), (-2.5, 1.35), (-2.8, -1.55), (-3.3, 1.15),
    (-4.5, -1.85), (-5.0, -2.2),
]

# ---------------- figure ----------------
fig = plt.figure(figsize=(11.61, 4.5), dpi=100)
ax1 = fig.add_axes([124.5 / 1161, 51 / 450, 439.5 / 1161, 385 / 450])
ax2 = fig.add_axes([641 / 1161, 54 / 450, 520 / 1161, 384 / 450])

# left panel
for tr in others:
    xs = [p[0] for p in tr]
    ys = [p[1] for p in tr]
    ax1.plot(xs, ys, color='#333333', alpha=0.2, lw=0.65)

tracks = [(brazil_x, brazil_y), (china_x, china_y), (india_x, india_y),
          (norway_x, norway_y), (saudi_x, saudi_y)]
for (xs, ys), name, c in zip(tracks, countries, country_colors):
    ax1.plot(xs, ys, color=c, lw=1.5, label=name)
for name, lx, ly in zip(countries, label_x, label_y):
    ax1.text(lx, ly, name, fontsize=6, color='black', va='center', ha='left')

ax1.set_xlim(-6, 3)
ax1.set_ylim(-8.2, 8.6)
ax1.set_xticks(np.arange(-6, 4, 1))
ax1.set_yticks(np.arange(-8, 9, 2))
ax1.tick_params(labelsize=5.5, length=2, pad=2)
ax1.set_ylabel('Infra Index', fontsize=6.5, color='#555555')
ax1.yaxis.set_label_coords(-0.055, 0.5)
ax1.legend(loc='upper right', fontsize=6, handlelength=2.2, labelspacing=0.35)
ax1.set_xlabel('Fitness (log)', fontsize=14, color='black', family='Roboto', fontweight='normal')
ax1.xaxis.set_label_coords(0.483, -0.07)

# right panel
b2, = ax2.fill(s2u_x + s2l_x[::-1], s2u_y + s2l_y[::-1], color='lightcoral', alpha=0.28, lw=0,
               label=r'2 $\sigma$')
b1, = ax2.fill(s1u_x + s1l_x[::-1], s1u_y + s1l_y[::-1], color='lightcoral', alpha=0.36, lw=0,
               label=r'1 $\sigma$')
pts = obs + obs_dense
ox = [p[0] for p in pts]
oy = [p[1] for p in pts]
ax2.scatter(ox, oy, s=7, color='black', alpha=0.32, linewidths=0, zorder=3)
ax2.plot(med_x, med_y, color='#E24A33', lw=1.5, zorder=4)
ax2.plot([threshold_x, threshold_x], threshold_span, color='black', ls='--', lw=1.2, zorder=5)

ax2.set_xlim(-6.5, 2.865)
ax2.set_ylim(-3.4, 3.8)
ax2.set_xticks([-6, -4, -2, 0, 2])
ax2.set_yticks([-3, -2, -1, 0, 1, 2, 3])
ax2.set_yticklabels(['-3', '-2', '-1', '0', '1', '2', '3'])
ax2.tick_params(labelsize=10)
ax2.legend(handles=[b1, b2], loc='upper left', fontsize=9)
ax2.set_xlabel('Fitness (log)', fontsize=14, color='black', family='Roboto', fontweight='normal')
ax2.xaxis.set_label_coords(0.49, -0.078)

# row title
fig.text(28 / 1161, 1 - 229 / 450, '4th component', rotation=90, ha='center', va='center',
         fontsize=30.5, fontweight='bold', family='Liberation Sans', color='black')
fig.text(71 / 1161, 1 - 228 / 450, 'var expl. 4.5%', rotation=90, ha='center', va='center',
         fontsize=24, fontweight='light', family='Roboto', color='black')

fig.savefig('out.png', dpi=100)
